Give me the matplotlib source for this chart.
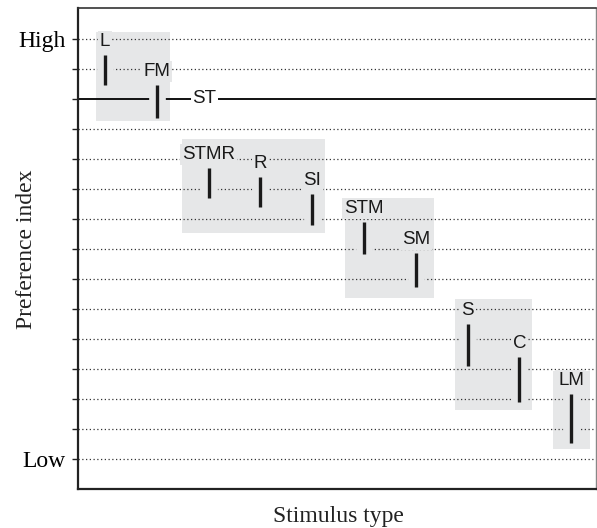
import matplotlib
matplotlib.use("Agg")
import matplotlib.pyplot as plt
from matplotlib.patches import Rectangle

# stimulus types, left to right, with the top and bottom of each preference bar
stimuli = ['L', 'FM', 'STMR', 'R', 'SI', 'STM', 'SM', 'S', 'C', 'LM']
pref_hi = [13.47, 12.47, 9.70, 9.40, 8.83, 7.90, 6.87, 4.50, 3.40, 2.17]
pref_lo = [12.47, 11.37, 8.70, 8.40, 7.80, 6.83, 5.73, 3.10, 1.90, 0.53]

# reference level (ST) and the y scale
st_level = 12
levels = list(range(0, 15))
level_labels = {0: 'Low', 14: 'High'}

# shaded groups: x range and y range
group_x = [(-0.17, 1.25), (1.49, 4.25), (4.63, 6.35), (6.76, 8.24), (8.65, 9.36)]
group_y = [(11.27, 14.23), (7.53, 10.67), (5.37, 8.70), (1.63, 5.33), (0.33, 2.93)]

box_col = '#e6e7e8'
sans = ['Liberation Sans', 'DejaVu Sans']
serif = ['Liberation Serif', 'DejaVu Serif']

fig = plt.figure(figsize=(5.97, 5.28), dpi=100)
ax = fig.add_axes([78 / 597, 39 / 528, 518 / 597, 481 / 528])
ax.set_xlim(-0.52, 9.48)
ax.set_ylim(-1, 15.03)

# shaded boxes
for (x0, x1), (y0, y1) in zip(group_x, group_y):
    ax.add_patch(Rectangle((x0, y0), x1 - x0, y1 - y0, facecolor=box_col,
                           edgecolor='none', zorder=0))

# dotted grid, solid line for ST
for lv in levels:
    if lv == st_level:
        ax.axhline(lv, color='#111111', lw=1.4, zorder=1)
    else:
        ax.axhline(lv, color='#333333', lw=0.9, linestyle=(0, (1, 2.0)), zorder=1)

# bars with a halo that breaks the grid lines
xs = list(range(len(stimuli)))
ax.vlines(xs, pref_lo, pref_hi, color=box_col, lw=12, zorder=2, capstyle='butt')
ax.vlines(xs, pref_lo, pref_hi, color='#1a1a1a', lw=2.4, zorder=3, capstyle='butt')

for x, hi, name in zip(xs, pref_hi, stimuli):
    ax.annotate(name, (x, hi), xytext=(0, 3.5), textcoords='offset points',
                ha='center', va='bottom', fontsize=13.5, family=sans, color='#1a1a1a',
                bbox=dict(boxstyle='square,pad=0.1', fc=box_col, ec='none'), zorder=4)

ax.text(1.92, st_level, 'ST', ha='center', va='center', fontsize=13.5, family=sans,
        color='#1a1a1a', zorder=4,
        bbox=dict(boxstyle='square,pad=0.08', fc='white', ec='none'))

# axes styling
ax.set_yticks(levels)
ax.set_yticklabels([level_labels.get(lv, '') for lv in levels], family=serif, fontsize=17)
ax.set_xticks([])
ax.tick_params(axis='y', length=4, width=1, pad=5, color='#222222')
ax.spines['left'].set_linewidth(1.6)
ax.spines['bottom'].set_linewidth(1.6)
ax.spines['left'].set_color('#222222')
ax.spines['bottom'].set_color('#222222')
ax.spines['top'].set_color('#333333')
ax.spines['top'].set_linewidth(1.2)
ax.spines['right'].set_color('#888888')
ax.spines['right'].set_linewidth(1.0)

fig.text(338 / 597, 6 / 528, 'Stimulus type', ha='center', va='baseline',
         family=serif, fontsize=17, color='#222222')
fig.text(27 / 597, 1 - 249 / 528, 'Preference index', ha='center', va='center',
         rotation=90, family=serif, fontsize=17, color='#222222')

fig.savefig('out.png', dpi=100)
